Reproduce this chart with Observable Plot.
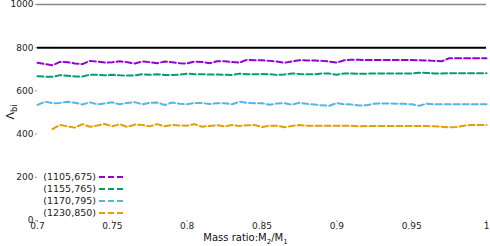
<!DOCTYPE html>
<html>
<head>
<meta charset="utf-8">
<script src="https://cdn.jsdelivr.net/npm/d3@7"></script>
<script src="https://cdn.jsdelivr.net/npm/@observablehq/plot@0.6"></script>
<style>
  html, body { margin: 0; padding: 0; background: #fff; }
  #chart { width: 490px; height: 246px; }
  svg text { font-family: "DejaVu Sans", sans-serif; }
</style>
</head>
<body>
<div id="chart"></div>
<script>
// Mass ratio grid (x)
const massRatio = [0.7,0.705,0.71,0.715,0.72,0.725,0.73,0.735,0.74,0.745,0.75,0.755,0.76,0.765,0.77,0.775,0.78,0.785,0.79,0.795,0.8,0.805,0.81,0.815,0.82,0.825,0.83,0.835,0.84,0.845,0.85,0.855,0.86,0.865,0.87,0.875,0.88,0.885,0.89,0.895,0.9,0.905,0.91,0.915,0.92,0.925,0.93,0.935,0.94,0.945,0.95,0.955,0.96,0.965,0.97,0.975,0.98,0.985,0.99,0.995,1];

const seriesNames = ["(1105,675)", "(1155,765)", "(1170,795)", "(1230,850)"];
const seriesColors = ["#9400D3", "#009E73", "#56B4E9", "#E69F00"];

const lambda1105 = [730,724,719,734,733,727,724,739,736,731,733,737,733,727,736,733,728,736,733,728,727,736,734,728,737,737,734,731,744,742,742,739,736,730,737,742,741,741,739,736,731,742,744,744,743,743,743,743,743,743,743,742,741,739,737,751,751,751,751,751,751];
const lambda1155 = [668,666,665,673,670,667,667,675,675,672,675,672,671,672,677,675,677,674,674,675,680,677,677,676,676,675,674,680,677,677,678,677,674,676,681,678,677,677,681,680,675,681,681,679,680,680,680,680,680,680,681,684,683,681,681,682,682,682,682,682,682];
const lambda1170 = [535,550,543,544,550,545,537,547,538,542,547,538,544,548,538,545,546,535,546,540,538,544,544,539,543,543,538,550,545,543,543,536,542,543,536,545,540,537,533,531,544,538,537,532,534,541,542,542,541,540,538,531,541,538,538,538,538,538,538,538,538];
const lambda1230 = [null,null,423,442,436,430,446,434,440,447,436,446,433,444,442,436,446,436,442,440,439,446,434,438,441,436,442,438,441,442,433,439,439,432,438,442,439,439,439,439,439,439,439,436,437,437,437,437,437,437,437,437,437,436,434,431,433,439,442,442,442];

const refLines = [800];
const frameTop = [1000];
const xTicks = [0.7, 0.75, 0.8, 0.85, 0.9, 0.95, 1];
const yTicks = [0, 200, 400, 600, 800, 1000];

const allSeries = [lambda1105, lambda1155, lambda1170, lambda1230];
const rows = [];
allSeries.forEach((vals, s) => {
  vals.forEach((v, i) => {
    if (v != null) rows.push({x: massRatio[i], y: v, series: seriesNames[s]});
  });
});

const plot = Plot.plot({
  width: 490,
  height: 246,
  marginLeft: 37,
  marginRight: 4,
  marginTop: 4,
  marginBottom: 26,
  style: {fontFamily: "DejaVu Sans, sans-serif", fontSize: "9px", color: "#222", background: "#fff"},
  x: {domain: [0.7, 1]},
  y: {domain: [0, 1000]},
  color: {domain: seriesNames, range: seriesColors},
  marks: [
    Plot.ruleY(frameTop, {stroke: "#888", strokeWidth: 1.5}),
    Plot.ruleY(refLines, {stroke: "#000", strokeWidth: 2}),
    Plot.line(rows, {x: "x", y: "y", z: "series", stroke: "series", strokeWidth: 2, strokeDasharray: "6,3"}),
    Plot.axisY({ticks: yTicks, tickSize: 2, tickPadding: 2, label: null, stroke: "#999",
      tickFormat: d => String(d)}),
    Plot.axisX({ticks: xTicks, tickSize: 2, tickPadding: 0, label: null, stroke: "#999",
      tickFormat: d => String(+d.toFixed(2))})
  ]
});

document.getElementById("chart").appendChild(plot);

const svg = d3.select(plot);
const xs = plot.scale("x");
const ys = plot.scale("y");

// y-axis label
const yl = svg.append("text")
  .attr("transform", `translate(14,${(ys.range[0] + ys.range[1]) / 2}) rotate(-90)`)
  .attr("text-anchor", "middle")
  .attr("font-size", 11)
  .attr("fill", "#111");
yl.append("tspan").text("Λ");
yl.append("tspan").attr("font-size", 8).attr("dy", 3).text("bi");

// x-axis label
const xl = svg.append("text")
  .attr("x", (xs.range[0] + xs.range[1]) / 2 - 16)
  .attr("y", 241)
  .attr("text-anchor", "middle")
  .attr("font-size", 10)
  .attr("fill", "#111");
xl.append("tspan").text("Mass ratio:M");
xl.append("tspan").attr("font-size", 7).attr("dy", 3).text("2");
xl.append("tspan").attr("dy", -3).text("/M");
xl.append("tspan").attr("font-size", 7).attr("dy", 3).text("1");

// legend (key)
const key = svg.append("g");
seriesNames.forEach((name, i) => {
  const yy = 177 + i * 12;
  key.append("text")
    .attr("x", 96).attr("y", yy).attr("dy", "0.35em")
    .attr("text-anchor", "end")
    .attr("font-size", 9.5)
    .attr("fill", "#222")
    .text(name);
  key.append("line")
    .attr("x1", 99).attr("x2", 126).attr("y1", yy).attr("y2", yy)
    .attr("stroke", seriesColors[i]).attr("stroke-width", 2)
    .attr("stroke-dasharray", "6,3");
});
</script>
</body>
</html>
